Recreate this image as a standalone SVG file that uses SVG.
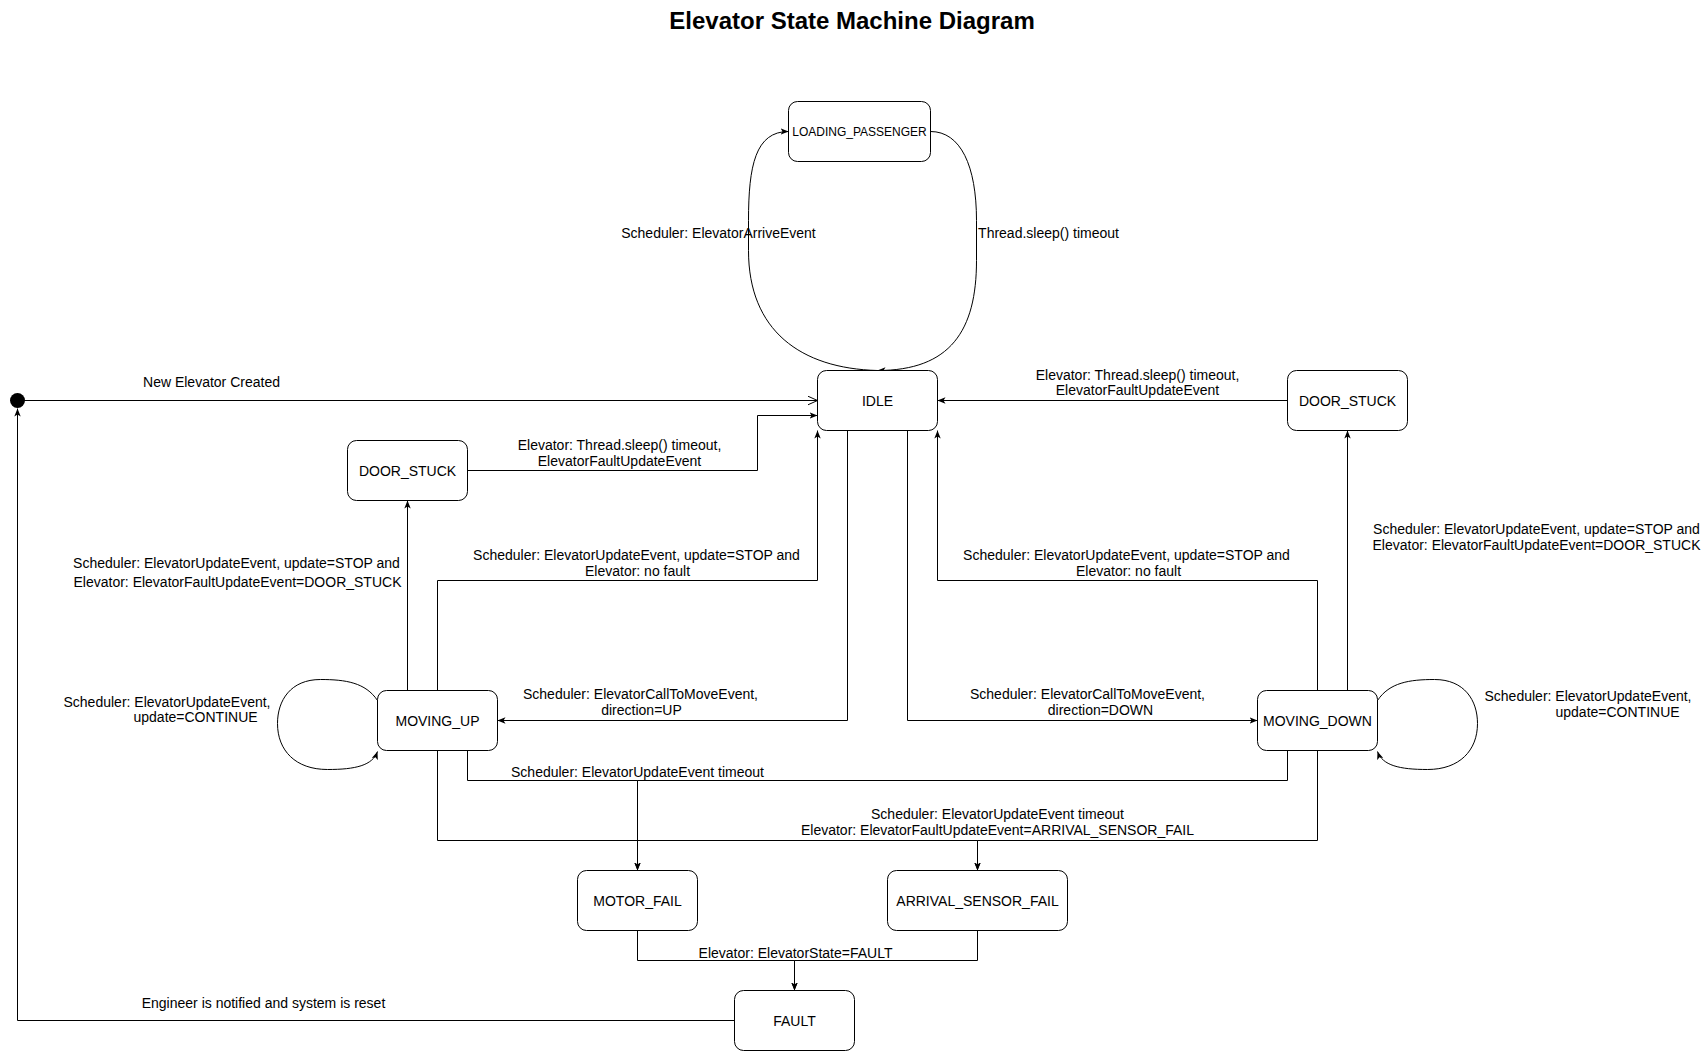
<svg xmlns="http://www.w3.org/2000/svg" width="1703" height="1051" viewBox="0 0 1703 1051">
<defs>
<style>
.node rect{fill:#fff;stroke:#000;stroke-width:1}
.node text{font-family:"Liberation Sans",Arial,Helvetica,sans-serif;font-size:14px;text-anchor:middle;fill:#000}
.edge{fill:none;stroke:#000;stroke-width:1}
.arr{marker-end:url(#arr)}
.lbl{font-family:"Liberation Sans",Arial,Helvetica,sans-serif;font-size:14px;fill:#000;text-anchor:middle}
.lbl.start{text-anchor:start}
.title{font-family:"Liberation Sans",Arial,Helvetica,sans-serif;font-size:24px;font-weight:bold;text-anchor:middle;fill:#000}
</style>
<marker id="arr" viewBox="0 0 10 10" refX="10" refY="5" markerWidth="8" markerHeight="8" orient="auto" markerUnits="userSpaceOnUse">
<path d="M0,1 L10,5 L0,9 L2.5,5 z" fill="#000"/>
</marker>
<marker id="open" viewBox="0 0 10 10" refX="10" refY="5" markerWidth="10" markerHeight="10" orient="auto" markerUnits="userSpaceOnUse">
<path d="M0,0.5 L10,5 L0,9.5" fill="none" stroke="#000" stroke-width="1"/>
</marker>
</defs>
<rect x="0" y="0" width="1703" height="1051" fill="#fff"/>
<text class="title" x="852" y="29">Elevator State Machine Diagram</text>
<g transform="translate(0.5,0.5)">
<g id="connectors">
<path class="edge" d="M 17 400 H 817" marker-end="url(#open)"/>
<path class="edge arr" d="M 734 1020 H 17 V 408"/>
<path class="edge arr" d="M 467 470 H 757 V 415 H 817"/>
<path class="edge arr" d="M 1287 400 H 937"/>
<path class="edge arr" d="M 877 370 C 800 368, 748 330, 748 250 L 748 220 C 748 165, 755 131, 788 131"/>
<path class="edge arr" d="M 930 131 C 960 131, 976 165, 976 220 L 976 260 C 976 330, 950 370, 877 370"/>
<path class="edge arr" d="M 407 690 V 500"/>
<path class="edge arr" d="M 437 690 V 580 H 817 V 430"/>
<path class="edge arr" d="M 847 430 V 720 H 497"/>
<path class="edge arr" d="M 907 430 V 720 H 1257"/>
<path class="edge arr" d="M 1317 690 V 580 H 937 V 430"/>
<path class="edge arr" d="M 1347 690 V 430"/>
<path class="edge arr" d="M 377 700 C 365 682, 345 679, 320 679 C 290 679, 277 700, 277 723 C 277 750, 295 769, 327 769 C 355 769, 372 765, 377 751"/>
<path class="edge arr" d="M 1377 700 C 1389 682, 1409 679, 1434 679 C 1464 679, 1477 700, 1477 723 C 1477 750, 1459 769, 1427 769 C 1399 769, 1382 765, 1377 751"/>
<path class="edge arr" d="M 467 750 V 780 H 637 V 870"/>
<path class="edge arr" d="M 1287 750 V 780 H 637 V 870"/>
<path class="edge arr" d="M 437 750 V 840 H 977 V 870"/>
<path class="edge arr" d="M 1317 750 V 840 H 977 V 870"/>
<path class="edge arr" d="M 637 930 V 960 H 794 V 990"/>
<path class="edge arr" d="M 977 930 V 960 H 794 V 990"/>
<circle cx="17" cy="400" r="7.5" fill="#000"/>
</g>
<g id="labels">
<text class="lbl" x="211" y="386">New Elevator Created</text>
<text class="lbl" x="718" y="237">Scheduler: ElevatorArriveEvent</text>
<text class="lbl" x="1048" y="237">Thread.sleep() timeout</text>
<text class="lbl" x="619" y="449">Elevator: Thread.sleep() timeout,</text>
<text class="lbl" x="619" y="465">ElevatorFaultUpdateEvent</text>
<text class="lbl" x="1137" y="379">Elevator: Thread.sleep() timeout,</text>
<text class="lbl" x="1137" y="394">ElevatorFaultUpdateEvent</text>
<text class="lbl" x="236" y="567">Scheduler: ElevatorUpdateEvent, update=STOP and</text>
<text class="lbl" x="237" y="586">Elevator: ElevatorFaultUpdateEvent=DOOR_STUCK</text>
<text class="lbl" x="1536" y="533">Scheduler: ElevatorUpdateEvent, update=STOP and</text>
<text class="lbl" x="1536" y="549">Elevator: ElevatorFaultUpdateEvent=DOOR_STUCK</text>
<text class="lbl" x="636" y="559">Scheduler: ElevatorUpdateEvent, update=STOP and</text>
<text class="lbl" x="637" y="575">Elevator: no fault</text>
<text class="lbl" x="1126" y="559">Scheduler: ElevatorUpdateEvent, update=STOP and</text>
<text class="lbl" x="1128" y="575">Elevator: no fault</text>
<text class="lbl" x="640" y="698">Scheduler: ElevatorCallToMoveEvent,</text>
<text class="lbl" x="641" y="714">direction=UP</text>
<text class="lbl" x="1087" y="698">Scheduler: ElevatorCallToMoveEvent,</text>
<text class="lbl" x="1100" y="714">direction=DOWN</text>
<text class="lbl start" x="63" y="706">Scheduler: ElevatorUpdateEvent,</text>
<text class="lbl start" x="133" y="721">update=CONTINUE</text>
<text class="lbl start" x="1484" y="700">Scheduler: ElevatorUpdateEvent,</text>
<text class="lbl start" x="1555" y="716">update=CONTINUE</text>
<text class="lbl" x="637" y="776">Scheduler: ElevatorUpdateEvent timeout</text>
<text class="lbl" x="997" y="818">Scheduler: ElevatorUpdateEvent timeout</text>
<text class="lbl" x="997" y="834">Elevator: ElevatorFaultUpdateEvent=ARRIVAL_SENSOR_FAIL</text>
<text class="lbl" x="795" y="957">Elevator: ElevatorState=FAULT</text>
<text class="lbl" x="263" y="1007">Engineer is notified and system is reset</text>
</g>
<g id="node-loading" class="node"><rect x="788" y="101" width="142" height="60" rx="9"/><text x="859" y="135" style="font-size:12px">LOADING_PASSENGER</text></g>
<g id="node-idle" class="node"><rect x="817" y="370" width="120" height="60" rx="9"/><text x="877" y="405">IDLE</text></g>
<g id="node-door-right" class="node"><rect x="1287" y="370" width="120" height="60" rx="9"/><text x="1347" y="405">DOOR_STUCK</text></g>
<g id="node-door-left" class="node"><rect x="347" y="440" width="120" height="60" rx="9"/><text x="407" y="475">DOOR_STUCK</text></g>
<g id="node-moving-up" class="node"><rect x="377" y="690" width="120" height="60" rx="9"/><text x="437" y="725">MOVING_UP</text></g>
<g id="node-moving-down" class="node"><rect x="1257" y="690" width="120" height="60" rx="9"/><text x="1317" y="725">MOVING_DOWN</text></g>
<g id="node-motor-fail" class="node"><rect x="577" y="870" width="120" height="60" rx="9"/><text x="637" y="905">MOTOR_FAIL</text></g>
<g id="node-arrival-fail" class="node"><rect x="887" y="870" width="180" height="60" rx="9"/><text x="977" y="905">ARRIVAL_SENSOR_FAIL</text></g>
<g id="node-fault" class="node"><rect x="734" y="990" width="120" height="60" rx="9"/><text x="794" y="1025">FAULT</text></g>
</g>
</svg>
